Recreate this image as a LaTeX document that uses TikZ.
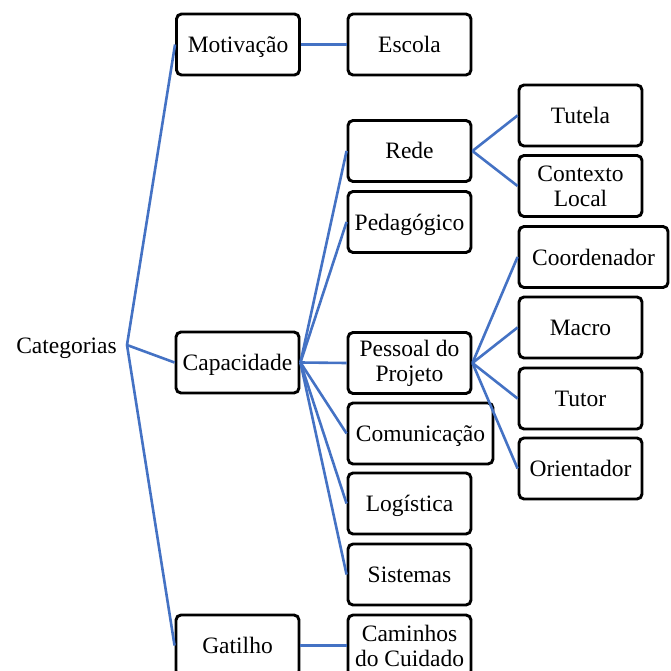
\documentclass[tikz,border=0pt]{standalone}
\usepackage{fontspec}
\setmainfont{Liberation Serif}
\definecolor{linkblue}{RGB}{68,114,196}
\begin{document}
\begin{tikzpicture}[x=1pt,y=-1pt,
  box/.style={draw, rounded corners=5pt, line width=2.9pt, minimum width=123pt, minimum height=61pt, align=center, inner sep=4pt, text height=18pt, text depth=2pt, font=\fontsize{23.5}{25}\selectfont},
  twoline/.style={text height={}, text depth={}},
  every edge/.style={draw, linkblue, line width=2.6pt}]
\useasboundingbox (0,0) rectangle (670,671);
\clip (0,0) rectangle (670,671);
\node[anchor=east, inner xsep=10pt, text height=18pt, text depth=2pt, font=\fontsize{23.5}{25}\selectfont] (cat) at (127,345) {Categorias};
\node[box] (mot) at (238,44.5) {Motivação};
\node[box] (esc) at (409.5,44.5) {Escola};
\node[box] (cap) at (237.5,362.5) {Capacidade};
\node[box] (gat) at (237.5,645.5) {Gatilho};
\node[box, twoline] (cam) at (409.5,645.5) {Caminhos\\do Cuidado};
\node[box] (red) at (409.5,151) {Rede};
\node[box] (ped) at (409.5,222) {Pedagógico};
\node[box, twoline] (pes) at (409.5,363) {Pessoal do\\Projeto};
\node[box, minimum width=145pt] (com) at (420.5,433.5) {Comunicação};
\node[box] (log) at (409.5,503.5) {Logística};
\node[box] (sis) at (409.5,574.5) {Sistemas};
\node[box] (tut) at (580.5,115.5) {Tutela};
\node[box, twoline] (ctx) at (580.5,186) {Contexto\\Local};
\node[box, minimum width=149pt] (coo) at (593.5,257) {Coordenador};
\node[box] (mac) at (580.5,327.5) {Macro};
\node[box] (tur) at (580.5,398.5) {Tutor};
\node[box] (ori) at (580.5,468.5) {Orientador};
\draw  (cat.east) edge (mot.west);
\draw  (cat.east) edge (cap.west);
\draw  (cat.east) edge (gat.west);
\draw  (mot.east) edge (esc.west);
\draw  (gat.east) edge (cam.west);
\draw  (cap.east) edge (red.west);
\draw  (cap.east) edge (ped.west);
\draw  (cap.east) edge (pes.west);
\draw  (cap.east) edge (com.west);
\draw  (cap.east) edge (log.west);
\draw  (cap.east) edge (sis.west);
\draw  (red.east) edge (tut.west);
\draw  (red.east) edge (ctx.west);
\draw  (pes.east) edge (coo.west);
\draw  (pes.east) edge (mac.west);
\draw  (pes.east) edge (tur.west);
\draw  (pes.east) edge (ori.west);
\end{tikzpicture}
\end{document}
